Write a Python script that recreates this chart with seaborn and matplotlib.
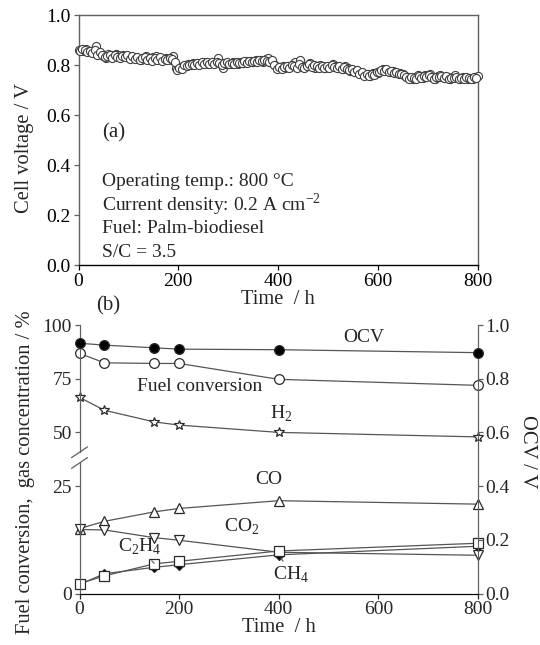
import numpy as np
import pandas as pd
import matplotlib
matplotlib.use("Agg")
import matplotlib.pyplot as plt
import seaborn as sns
from matplotlib.patches import Rectangle

# ---------------- data ----------------
# (a) cell voltage vs time: readings every 5 h ...
cv_time = np.arange(0, 801, 5)
cell_voltage = [
    0.860, 0.862, 0.858, 0.864, 0.856, 0.852, 0.855, 0.876, 0.848, 0.845,
    0.838, 0.828, 0.846, 0.842, 0.836, 0.845, 0.839, 0.832, 0.840, 0.835,
    0.838, 0.830, 0.834, 0.828, 0.826, 0.822, 0.830, 0.835, 0.826, 0.824,
    0.832, 0.836, 0.828, 0.826, 0.822, 0.830, 0.824, 0.820, 0.836, 0.790,
    0.784, 0.792, 0.796, 0.800, 0.805, 0.802, 0.808, 0.804, 0.810, 0.806,
    0.812, 0.808, 0.806, 0.810, 0.812, 0.808, 0.830, 0.806, 0.788, 0.804,
    0.810, 0.806, 0.812, 0.808, 0.806, 0.814, 0.810, 0.815, 0.812, 0.818,
    0.814, 0.820, 0.816, 0.822, 0.812, 0.824, 0.828, 0.816, 0.808, 0.795,
    0.788, 0.792, 0.796, 0.790, 0.798, 0.794, 0.806, 0.812, 0.796, 0.820,
    0.798, 0.792, 0.800, 0.810, 0.796, 0.790, 0.794, 0.802, 0.796, 0.790,
    0.796, 0.792, 0.806, 0.798, 0.788, 0.792, 0.786, 0.796, 0.790, 0.776,
    0.782, 0.776, 0.772, 0.768, 0.764, 0.760, 0.764, 0.758, 0.770, 0.766,
    0.770, 0.776, 0.784, 0.780, 0.778, 0.774, 0.778, 0.772, 0.768, 0.770,
    0.764, 0.758, 0.752, 0.748, 0.744, 0.752, 0.760, 0.756, 0.748, 0.762,
    0.756, 0.764, 0.750, 0.746, 0.758, 0.762, 0.754, 0.748, 0.752, 0.746,
    0.754, 0.760, 0.750, 0.746, 0.752, 0.748, 0.744, 0.750, 0.746, 0.752,
    0.756,
]
# ... and the readings in between (2.5 h, 7.5 h, ...)
cv_time_mid = np.arange(2.5, 800, 5)
cell_voltage_mid = [
    0.857, 0.866, 0.860, 0.854, 0.858, 0.850, 0.862, 0.842, 0.852, 0.840,
    0.832, 0.836, 0.840, 0.830, 0.842, 0.834, 0.828, 0.838, 0.832, 0.840,
    0.826, 0.836, 0.824, 0.832, 0.820, 0.828, 0.832, 0.822, 0.830, 0.818,
    0.828, 0.822, 0.832, 0.818, 0.826, 0.820, 0.830, 0.826, 0.812, 0.780,
    0.788, 0.786, 0.800, 0.796, 0.800, 0.806, 0.800, 0.808, 0.802, 0.812,
    0.806, 0.812, 0.804, 0.814, 0.804, 0.812, 0.810, 0.800, 0.808, 0.812,
    0.804, 0.810, 0.804, 0.812, 0.810, 0.808, 0.816, 0.808, 0.816, 0.812,
    0.818, 0.812, 0.820, 0.816, 0.820, 0.818, 0.812, 0.822, 0.800, 0.786,
    0.794, 0.786, 0.792, 0.796, 0.790, 0.800, 0.796, 0.790, 0.804, 0.794,
    0.790, 0.798, 0.804, 0.794, 0.800, 0.796, 0.788, 0.798, 0.790, 0.798,
    0.790, 0.800, 0.794, 0.790, 0.796, 0.784, 0.792, 0.784, 0.780, 0.784,
    0.774, 0.780, 0.766, 0.772, 0.758, 0.766, 0.756, 0.764, 0.762, 0.772,
    0.774, 0.780, 0.776, 0.784, 0.772, 0.776, 0.770, 0.774, 0.764, 0.766,
    0.760, 0.754, 0.746, 0.752, 0.750, 0.746, 0.756, 0.750, 0.756, 0.754,
    0.760, 0.754, 0.744, 0.752, 0.754, 0.756, 0.748, 0.756, 0.744, 0.750,
    0.748, 0.754, 0.744, 0.750, 0.746, 0.752, 0.748, 0.744, 0.752, 0.748,
]

# (b) performance vs time
b_time = [0, 50, 150, 200, 400, 800]
ocv = [0.932, 0.925, 0.915, 0.910, 0.908, 0.897]          # V (right axis)
fuel_conversion = [86.8, 82.4, 82.1, 82.1, 74.7, 71.9]     # %
h2 = [66.3, 60.3, 54.9, 53.4, 50.0, 47.9]                  # %
co = [15.1, 16.8, 19.0, 19.8, 21.6, 20.8]                  # %
co2 = [14.9, 14.8, 13.0, 12.4, 9.6, 8.9]                   # %
ch4 = [2.1, 4.6, 6.1, 6.7, 9.0, 11.0]                      # %
c2h4 = [2.3, 4.1, 6.9, 7.5, 9.9, 11.7]                     # %

left_ticks = [0, 25, 50, 75, 100]
right_ticks = [0.0, 0.2, 0.4, 0.6, 0.8, 1.0]
x_ticks = [0, 200, 400, 600, 800]

# ---------------- style ----------------
sns.set_style("ticks")
plt.rcParams["font.family"] = ["Liberation Serif", "DejaVu Serif"]
plt.rcParams["mathtext.fontset"] = "custom"
plt.rcParams["mathtext.rm"] = "Liberation Serif"
plt.rcParams["font.size"] = 14
plt.rcParams["xtick.direction"] = "out"
plt.rcParams["ytick.direction"] = "out"
plt.rcParams["xtick.major.size"] = 3.5
plt.rcParams["ytick.major.size"] = 3.5
plt.rcParams["xtick.major.width"] = 0.9
plt.rcParams["ytick.major.width"] = 0.9

FS = 14
LFS = 14.8
fig = plt.figure(figsize=(5.4, 6.45), dpi=100)
W, H = 540.0, 645.0

def rect(l, r, t, b):
    return [l / W, 1 - b / H, (r - l) / W, (b - t) / H]

spine_gray = "#606060"

# ---------------- (a) ----------------
ax1 = fig.add_axes(rect(78.5, 477.5, 15, 265.5))
df_a = pd.DataFrame({"t": np.concatenate([cv_time, cv_time_mid]),
                     "v": cell_voltage + cell_voltage_mid})
sns.scatterplot(data=df_a, x="t", y="v", ax=ax1, marker="o", s=34,
                color="white", edgecolor="#404040", linewidth=0.8,
                clip_on=False, zorder=3, legend=False)
ax1.set_xlim(0, 800)
ax1.set_ylim(0, 1.0)
ax1.set_xticks(x_ticks)
ax1.set_yticks(right_ticks)
ax1.set_yticklabels([f"{v:.1f}" for v in right_ticks])
ax1.tick_params(labelsize=FS, colors="black", pad=2)
ax1.set_xlabel("Time  / h", fontsize=LFS, labelpad=0)
ax1.set_ylabel("Cell voltage / V", fontsize=LFS)
ax1.yaxis.set_label_coords(-0.112, 0.469)
for s in ["left", "right", "top"]:
    ax1.spines[s].set_color(spine_gray)
    ax1.spines[s].set_linewidth(1.0)
ax1.spines["bottom"].set_color("black")
ax1.spines["bottom"].set_linewidth(1.0)
ax1.tick_params(axis="y", color=spine_gray)

ax1.text(0.058, 0.53, "(a)", transform=ax1.transAxes, fontsize=FS + 1,
         ha="left", va="center")
info = ["Operating temp.: 800 \u00b0C",
        "Current density: 0.2 A cm$^{-2}$",
        "Fuel: Palm-biodiesel",
        "S/C = 3.5"]
for i, line in enumerate(info):
    ax1.text(0.058, 0.335 - i * 0.094, line, transform=ax1.transAxes,
             fontsize=FS, ha="left", va="center")

# ---------------- (b) ----------------
def fwd(v):
    return np.interp(v, [0, 25, 50, 100], [0, 0.4, 0.6, 1.0])

def inv(u):
    return np.interp(u, [0, 0.4, 0.6, 1.0], [0, 25, 50, 100])

ax2 = fig.add_axes(rect(79.5, 478, 325, 593.5))
ax2.set_yscale("function", functions=(fwd, inv))
ax3 = ax2.twinx()

line_c = "#555555"
edge_c = "#2a2a2a"
common = dict(color=line_c, linewidth=0.9, clip_on=False,
              markeredgecolor=edge_c, markeredgewidth=0.9, zorder=3)

def draw(ax, y, marker, ms, face):
    df = pd.DataFrame({"t": b_time, "y": y})
    sns.lineplot(data=df, x="t", y="y", ax=ax, marker=marker,
                 markersize=ms, markerfacecolor=face, legend=False, **common)

draw(ax2, fuel_conversion, "o", 7, "white")
draw(ax2, h2, "*", 7.5, "white")
draw(ax2, co, "^", 7.5, "white")
draw(ax2, co2, "v", 7.5, "white")
draw(ax2, ch4, "D", 5.5, "black")
draw(ax2, c2h4, "s", 7, "white")
draw(ax3, ocv, "o", 7, "black")

ax2.set_xlim(0, 800)
ax2.set_ylim(0, 100)
ax3.set_ylim(0, 1.0)
ax2.set_xticks(x_ticks)
ax2.set_yticks(left_ticks)
ax2.set_yticklabels([str(v) for v in left_ticks])
ax3.set_yticks(right_ticks)
ax3.set_yticklabels([f"{v:.1f}" for v in right_ticks])
ax2.minorticks_off()
ax2.tick_params(labelsize=FS, pad=2)
ax3.tick_params(labelsize=FS, pad=2)
ax2.set_xlabel("Time  / h", fontsize=LFS, labelpad=0)
ax2.set_ylabel("Fuel conversion,  gas concentration / %", fontsize=LFS)
ax2.yaxis.set_label_coords(-0.111, 0.45)
ax3.set_ylabel("OCV / V", fontsize=LFS, rotation=270, va="center")
ax3.yaxis.set_label_coords(1.124, 0.527)
ax2.spines["top"].set_visible(False)
ax3.spines["top"].set_visible(False)
for ax in (ax2, ax3):
    ax.spines["left"].set_color(spine_gray)
    ax.spines["right"].set_color(spine_gray)
    ax.spines["bottom"].set_color("black")
ax2.tick_params(axis="y", color=spine_gray)
ax3.tick_params(axis="y", color=spine_gray)

# axis break mark on left spine
ax3.add_patch(Rectangle((-0.01, 0.488), 0.02, 0.036, transform=ax3.transAxes,
                        facecolor="white", edgecolor="none", clip_on=False,
                        zorder=5))
for yc in (0.486, 0.526):
    ax3.plot([-0.02, 0.02], [yc - 0.02, yc + 0.02], transform=ax3.transAxes,
             color=spine_gray, lw=0.9, clip_on=False, zorder=6)

# series labels (in right-axis units, 0-1 scale)
ax3.text(570, 0.952, "OCV", fontsize=FS, ha="center", va="center")
ax3.text(241, 0.772, "Fuel conversion", fontsize=FS, ha="center", va="center")
ax3.text(405, 0.668, "H$_2$", fontsize=FS, ha="center", va="center")
ax3.text(380, 0.426, "CO", fontsize=FS, ha="center", va="center")
ax3.text(326, 0.247, "CO$_2$", fontsize=FS, ha="center", va="center")
ax3.annotate("C$_2$H$_4$", xy=(150, 0.112), xytext=(120, 0.172),
             fontsize=FS, ha="center", va="center",
             arrowprops=dict(arrowstyle="-", color=line_c, lw=0.8,
                             shrinkA=6, shrinkB=3))
ax3.annotate("CH$_4$", xy=(400, 0.146), xytext=(425, 0.070),
             fontsize=FS, ha="center", va="center",
             arrowprops=dict(arrowstyle="-", color=line_c, lw=0.8,
                             shrinkA=7, shrinkB=3))

fig.text(96 / W, 1 - 306 / H, "(b)", fontsize=FS + 1, ha="left",
         va="center")

fig.savefig("out.png", dpi=100)
